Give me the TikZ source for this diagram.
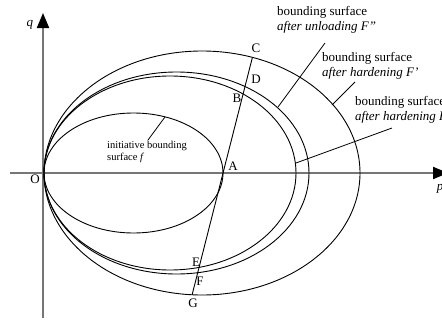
\documentclass[tikz,border=0pt]{standalone}
\usepackage{fontspec}
\setmainfont{Liberation Serif}
\usetikzlibrary{arrows.meta}
\definecolor{cAx}{RGB}{118,118,118}

\begin{document}
\begin{tikzpicture}[x=1pt, y=-1pt,
    axis/.style={draw=cAx, line width=2pt, -{Triangle[length=15pt, width=12pt, color=black]}},
    surface/.style={draw=black, line width=0.9pt},
    leader/.style={draw=black, line width=0.8pt},
    pt/.style={font=\fontsize{13}{15}\selectfont, inner sep=0pt},
    tag/.style={font=\fontsize{13}{15}\selectfont, align=left, anchor=west, inner sep=0pt}]
    \useasboundingbox (0,0) rectangle (442,324);

    % Axes
    \coordinate (O) at (44,173);
    \coordinate (pS) at (10,173);
    \coordinate (pE) at (448,173);
    \coordinate (qS) at (43,318);
    \coordinate (qE) at (43,13);
    \draw[axis] (pS) -- (pE);
    \draw[axis] (qS) -- (qE);

    % Bounding surfaces
    \draw[surface] (133.5,173) ellipse [x radius=89.5, y radius=60];   % f
    \draw[surface] (170,173) ellipse [x radius=126, y radius=97];      % F
    \draw[surface] (176.5,173) ellipse [x radius=132.5, y radius=101]; % F''
    \draw[surface] (202,173) ellipse [x radius=158, y radius=122];     % F'

    % Stress path through A
    \coordinate (A) at (223,173);
    \coordinate (C) at (252.4,57.4);
    \coordinate (G) at (192.1,294.8);
    \draw[surface] (G) -- (C);

    % Points
    \node[pt] (lO) at (35,179) {O};
    \node[pt] (lA) at (233,166) {A};
    \node[pt] (lB) at (237,98) {B};
    \node[pt] (lC) at (256,48) {C};
    \node[pt] (lD) at (256,79) {D};
    \node[pt] (lE) at (196,262) {E};
    \node[pt] (lF) at (200,281) {F};
    \node[pt] (lG) at (193,303) {G};
    \node[pt] (lq) at (30,25) {\textit{q}};
    \node[pt] (lp) at (440,189) {\textit{p}};

    % Labels
    \node[tag] (tFpp) at (277,20) {bounding surface\\\textit{after unloading F"}};
    \node[tag] (tFp) at (322,65.5) {bounding surface\\\textit{after hardening F'}};
    \node[tag] (tF) at (355,110) {bounding surface\\\textit{after hardening F}};
    \node[tag, font=\fontsize{10.5}{12}\selectfont] (tf) at (107,152) {initiative bounding\\surface \textit{f}};

    % Leaders
    \coordinate (kFpp) at (325,43);  \coordinate (eFpp) at (278,107);
    \coordinate (kFp) at (355,82);   \coordinate (eFp) at (332,105);
    \coordinate (kF) at (392,128);   \coordinate (eF) at (296,163);
    \coordinate (kf) at (148,140);   \coordinate (ef) at (165,117);
    \draw[leader] (kFpp) -- (eFpp);
    \draw[leader] (kFp) -- (eFp);
    \draw[leader] (kF) -- (eF);
    \draw[leader] (kf) -- (ef);

\end{tikzpicture}
\end{document}
